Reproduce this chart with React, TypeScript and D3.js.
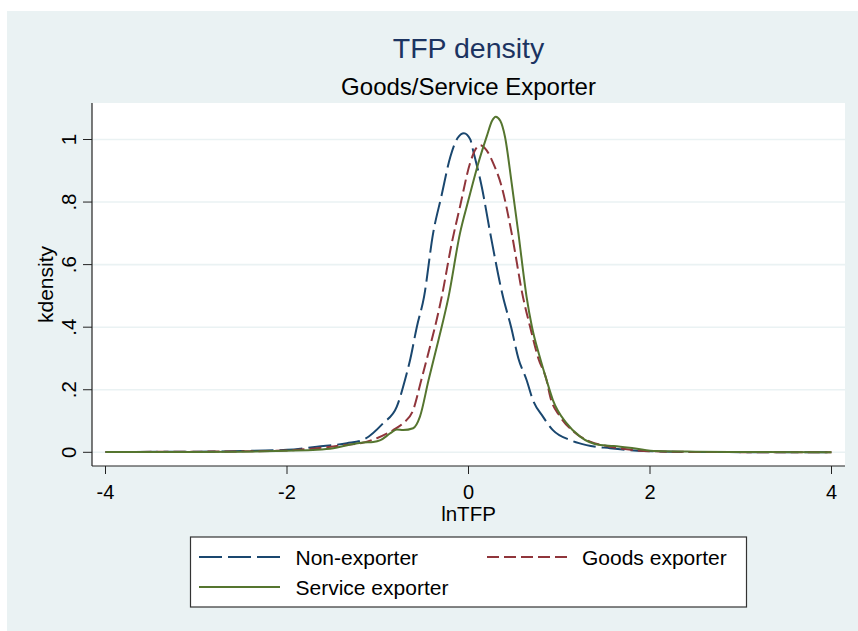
import React from "react";
import * as d3 from "d3";

// ---- data ----
const nonX = [-4, -3, -2.5, -2, -1.67, -1.34, -1.16, -0.94, -0.79, -0.7, -0.64, -0.57, -0.49, -0.39, -0.3, -0.2, -0.12, -0.05, 0.02, 0.05, 0.146, 0.24, 0.38, 0.47, 0.55, 0.64, 0.71, 0.82, 0.93, 1.12, 1.3, 1.56, 1.93, 2.5, 3, 4];
const nonY = [0.001, 0.002, 0.004, 0.008, 0.018, 0.029, 0.04, 0.093, 0.146, 0.231, 0.3, 0.4, 0.497, 0.7, 0.817, 0.945, 1.005, 1.02, 1.0, 0.966, 0.849, 0.7, 0.497, 0.4, 0.3, 0.231, 0.167, 0.114, 0.071, 0.039, 0.023, 0.013, 0.004, 0.001, 0.0005, 0];

const goodsX = [-4, -3, -2.5, -2, -1.67, -1.4, -1.19, -1.01, -0.83, -0.72, -0.61, -0.52, -0.44, -0.37, -0.295, -0.185, -0.094, 0.017, 0.08, 0.13, 0.2, 0.273, 0.366, 0.476, 0.6, 0.68, 0.77, 0.86, 0.9, 1.01, 1.16, 1.34, 1.56, 1.82, 2.2, 3, 4];
const goodsY = [0.001, 0.002, 0.003, 0.006, 0.013, 0.022, 0.029, 0.045, 0.071, 0.093, 0.135, 0.231, 0.32, 0.4, 0.497, 0.668, 0.785, 0.924, 0.97, 0.982, 0.965, 0.924, 0.849, 0.7, 0.497, 0.4, 0.3, 0.231, 0.178, 0.114, 0.066, 0.034, 0.018, 0.007, 0.002, 0.0005, 0];

const servX = [-4, -3, -2.5, -2, -1.67, -1.49, -1.3, -1.16, -1.05, -0.97, -0.86, -0.79, -0.72, -0.61, -0.535, -0.44, -0.33, -0.22, -0.094, 0.0, 0.108, 0.2, 0.26, 0.3, 0.35, 0.402, 0.476, 0.55, 0.64, 0.7, 0.78, 0.86, 0.93, 1.08, 1.23, 1.45, 1.6, 1.82, 2.07, 2.5, 3, 4];
const servY = [0.001, 0.001, 0.002, 0.005, 0.008, 0.013, 0.025, 0.031, 0.033, 0.039, 0.061, 0.073, 0.071, 0.077, 0.114, 0.231, 0.36, 0.497, 0.7, 0.807, 0.924, 1.009, 1.06, 1.073, 1.06, 1.009, 0.86, 0.7, 0.497, 0.4, 0.31, 0.231, 0.167, 0.093, 0.05, 0.023, 0.02, 0.013, 0.004, 0.002, 0.001, 0];

const xTicks = [-4, -2, 0, 2, 4];
const xTickLabels = ["-4", "-2", "0", "2", "4"];
const yTicks = [0, 0.2, 0.4, 0.6, 0.8, 1];
const yTickLabels = ["0", ".2", ".4", ".6", ".8", "1"];

const seriesNames = ["Non-exporter", "Goods exporter", "Service exporter"];
const seriesColors = ["#1a476f", "#90353b", "#55752f"];
const seriesDash = ["23,6", "12,5", "none"];

const FONT = "'Liberation Sans', Arial, sans-serif";

export default function App() {
  const W = 858, H = 631;
  const plot = { left: 92, right: 845, top: 103, bottom: 466 };
  const x = d3.scaleLinear().domain([-4, 4]).range([105.5, 831.5]);
  const y = d3.scaleLinear().domain([0, 1]).range([452.3, 139.5]);

  const line = d3
    .line<[number, number]>()
    .x((d) => x(d[0]))
    .y((d) => y(d[1]))
    .curve(d3.curveMonotoneX);

  const series = [
    nonX.map((v, i) => [v, nonY[i]] as [number, number]),
    goodsX.map((v, i) => [v, goodsY[i]] as [number, number]),
    servX.map((v, i) => [v, servY[i]] as [number, number]),
  ];

  const legendItems = [
    { i: 0, x0: 199, tx: 295.5, cy: 557 },
    { i: 1, x0: 487, tx: 582, cy: 557 },
    { i: 2, x0: 199, tx: 295.5, cy: 587 },
  ];

  return (
    <svg
      width={W}
      height={H}
      style={{ position: "absolute", left: 0, top: 0 }}
      fontFamily={FONT}
    >
      <rect x={0} y={0} width={W} height={H} fill="#ffffff" />
      <rect x={7} y={11} width={W - 7} height={H - 11} fill="#eaf2f3" />
      <rect
        x={plot.left}
        y={plot.top}
        width={plot.right - plot.left}
        height={plot.bottom - plot.top}
        fill="#ffffff"
      />
      {/* grid */}
      {yTicks.map((t) => (
        <line
          key={"g" + t}
          x1={plot.left}
          x2={plot.right}
          y1={y(t)}
          y2={y(t)}
          stroke="#eaf2f3"
          strokeWidth={1.6}
        />
      ))}
      {/* curves */}
      {series.map((s, i) => (
        <path
          key={"s" + i}
          d={line(s) || ""}
          fill="none"
          stroke={seriesColors[i]}
          strokeWidth={2}
          strokeDasharray={seriesDash[i]}
        />
      ))}
      {/* axes */}
      <line x1={plot.left} x2={plot.left} y1={plot.top} y2={plot.bottom} stroke="#222" strokeWidth={1.2} />
      <line x1={plot.left} x2={plot.right} y1={plot.bottom} y2={plot.bottom} stroke="#222" strokeWidth={1.2} />
      {yTicks.map((t, i) => (
        <g key={"yt" + t}>
          <line x1={plot.left - 9} x2={plot.left} y1={y(t)} y2={y(t)} stroke="#222" strokeWidth={1} />
          <text
            transform={`translate(76,${y(t)}) rotate(-90)`}
            textAnchor="middle"
            fontSize={20.5}
            fill="#000"
          >
            {yTickLabels[i]}
          </text>
        </g>
      ))}
      {xTicks.map((t, i) => (
        <g key={"xt" + t}>
          <line x1={x(t)} x2={x(t)} y1={plot.bottom} y2={plot.bottom + 8} stroke="#222" strokeWidth={1} />
          <text x={x(t)} y={499} textAnchor="middle" fontSize={20} fill="#000">
            {xTickLabels[i]}
          </text>
        </g>
      ))}
      <text x={468.5} y={521} textAnchor="middle" fontSize={20.5} fill="#000">
        lnTFP
      </text>
      <text
        transform={`translate(52.5,${(plot.top + plot.bottom) / 2}) rotate(-90)`}
        textAnchor="middle"
        fontSize={21}
        fill="#000"
      >
        kdensity
      </text>
      {/* titles */}
      <text x={468.5} y={58} textAnchor="middle" fontSize={28.5} fill="#1c3461">
        TFP density
      </text>
      <text x={468.5} y={95} textAnchor="middle" fontSize={24} fill="#000">
        Goods/Service Exporter
      </text>
      {/* legend */}
      <rect x={190.5} y={537} width={556} height={70} fill="#ffffff" stroke="#333" strokeWidth={1.2} />
      {legendItems.map((it) => (
        <g key={"l" + it.i}>
          <line
            x1={it.x0}
            x2={it.x0 + 81}
            y1={it.cy}
            y2={it.cy}
            stroke={seriesColors[it.i]}
            strokeWidth={2}
            strokeDasharray={seriesDash[it.i]}
          />
          <text x={it.tx} y={it.cy + 7.5} fontSize={21} fill="#000">
            {seriesNames[it.i]}
          </text>
        </g>
      ))}
    </svg>
  );
}
